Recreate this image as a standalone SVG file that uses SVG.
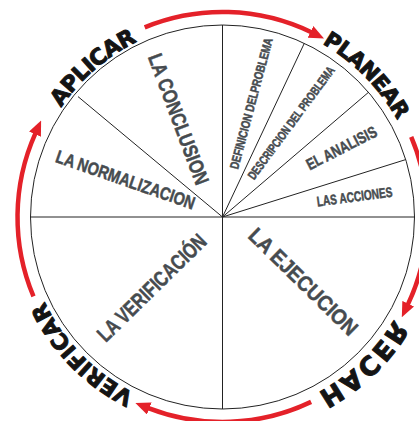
<svg xmlns="http://www.w3.org/2000/svg" width="419" height="421" viewBox="0 0 419 421">
<style>
.ln{stroke:#222;stroke-width:1;fill:none}
.red{stroke:#e42129;stroke-width:4.5;fill:none;marker-end:url(#ah)}
.in{font-family:"Liberation Sans",Arial,sans-serif;font-weight:bold;fill:#464b4f;stroke:#464b4f;stroke-width:0.5;text-anchor:middle;dominant-baseline:central}
.out{font-family:"DejaVu Sans",sans-serif;font-weight:bold;fill:#141414;stroke:#141414;stroke-width:1;stroke-linejoin:round;text-anchor:middle}
</style>
<defs>
<marker id="ah" markerUnits="userSpaceOnUse" markerWidth="15" markerHeight="13" viewBox="0 0 15 13" refX="1" refY="6.5" orient="auto"><path d="M0,0 L15,6.5 L0,13 z" fill="#e42129" stroke="none"/></marker>
<path id="pA" d="M31.1,254.2 A195,195 0 0 1 286.0,32.6"/>
<path id="pP" d="M172.1,23.5 A200,200 0 0 1 415.3,270.1"/>
<path id="pV" d="M267.5,408.8 A197,197 0 0 1 33.9,160.1"/>
<path id="pH" d="M416.5,168.3 A200,200 0 0 1 167.7,409.3"/>
</defs>
<rect width="419" height="421" fill="#fff"/>
<g id="wheel">
<circle class="ln" cx="222.5" cy="217" r="192" stroke-width="1.2"/>
</g>
<g id="connectors">
<line class="ln" x1="30.5" y1="217" x2="414.5" y2="217"/>
<line class="ln" x1="222.5" y1="25" x2="222.5" y2="409"/>
<line class="ln" x1="222.5" y1="217" x2="304.3" y2="43.3"/>
<line class="ln" x1="222.5" y1="217" x2="368.5" y2="92.3"/>
<line class="ln" x1="222.5" y1="217" x2="405.7" y2="159.6"/>
<line class="ln" x1="222.5" y1="217" x2="78" y2="96.6"/>
<path class="red" d="M144.7,27.3 A205,205 0 0 1 311.4,32.3"/>
<path class="red" d="M411.2,136.9 A205,205 0 0 1 407.8,304.6"/>
<path class="red" d="M311.1,401.9 A205,205 0 0 1 148.4,408.1"/>
<path class="red" d="M33.5,296.4 A205,205 0 0 1 35.4,133.3"/>
</g>
<g id="aplicar"><text class="out" font-size="22" letter-spacing="-0.6"><textPath href="#pA" startOffset="50%">APLICAR</textPath></text></g>
<g id="planear"><text class="out" font-size="21.5" letter-spacing="-0.6"><textPath href="#pP" startOffset="50%">PLANEAR</textPath></text></g>
<g id="hacer"><g transform="translate(222.5,217) rotate(45.9) scale(1,-1) rotate(-45.9) translate(-222.5,-217)"><text class="out" font-size="26" letter-spacing="2"><textPath href="#pH" startOffset="50%">HACER</textPath></text></g></g>
<g id="verificar"><text class="out" font-size="22" letter-spacing="0"><textPath href="#pV" startOffset="49%">VERIFICAR</textPath></text></g>
<g id="conclusion"><text class="in" font-size="20.5" textLength="138" lengthAdjust="spacingAndGlyphs" transform="translate(179,119) rotate(69.5)">LA CONCLUSION</text></g>
<g id="normalizacion"><text class="in" font-size="18" textLength="146" lengthAdjust="spacingAndGlyphs" transform="translate(125.5,180) rotate(19.1)">LA NORMALIZACION</text></g>
<g id="definicion"><text class="in" font-size="12.5" textLength="135" lengthAdjust="spacingAndGlyphs" transform="translate(251.5,103.5) rotate(-75)">DEFINICION DELPROBLEMA</text></g>
<g id="descripcion"><text class="in" font-size="12.5" textLength="137" lengthAdjust="spacingAndGlyphs" transform="translate(291.5,123) rotate(-53.5)">DESCRIPCION DEL PROBLEMA</text></g>
<g id="analisis"><text class="in" font-size="16" textLength="77" lengthAdjust="spacingAndGlyphs" transform="translate(341.5,148) rotate(-27)">EL ANALISIS</text></g>
<g id="acciones"><text class="in" font-size="14" textLength="76" lengthAdjust="spacingAndGlyphs" transform="translate(354.5,196.5) rotate(-7.5)">LAS ACCIONES</text></g>
<g id="ejecucion"><text class="in" font-size="21.5" textLength="143" lengthAdjust="spacingAndGlyphs" transform="translate(303,282) rotate(44.4)">LA EJECUCION</text></g>
<g id="verificacion"><text class="in" font-size="21.5" textLength="143" lengthAdjust="spacingAndGlyphs" transform="translate(152,288) rotate(-44.4)">LA VERIFICACIÓN</text></g>
</svg>
